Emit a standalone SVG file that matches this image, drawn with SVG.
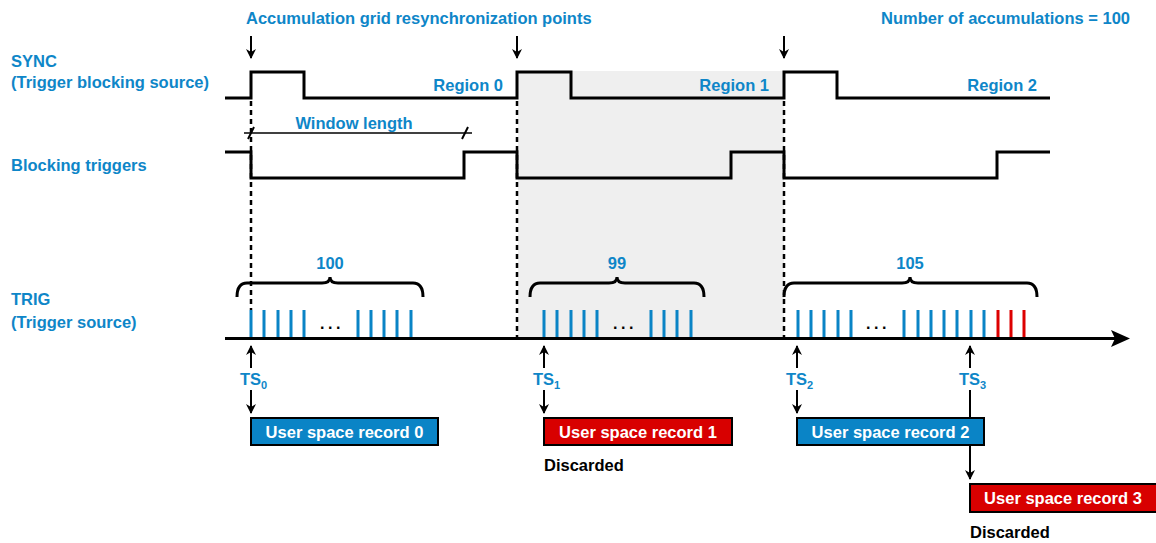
<svg xmlns="http://www.w3.org/2000/svg" width="1156" height="543" viewBox="0 0 1156 543">
  <style>
    .lbl { font-family: "Liberation Sans", Arial, sans-serif; font-weight: bold; font-size: 16.5px; fill: #0e86c8; }
    .blk { font-family: "Liberation Sans", Arial, sans-serif; font-weight: bold; font-size: 16.5px; fill: #000; }
    .rec { font-family: "Liberation Sans", Arial, sans-serif; font-weight: bold; font-size: 16.5px; fill: #fff; }
    .dots { font-family: "Liberation Sans", Arial, sans-serif; font-weight: bold; font-size: 16px; fill: #000; letter-spacing: 3.5px; }
    .sub { font-size: 11px; }
    .wave { fill: none; stroke: #000; stroke-width: 3; stroke-linejoin: miter; }
    .dash { stroke: #000; stroke-width: 2.5; stroke-dasharray: 5 4; }
    .arr { stroke: #000; stroke-width: 2; fill: none; }
    .brace { fill: none; stroke: #000; stroke-width: 3; }
    .pb { stroke: #0a84c6; stroke-width: 3; }
    .pr { stroke: #dd0000; stroke-width: 3; }
    .boxb { fill: #0a84c6; stroke: #000; stroke-width: 2; }
    .boxr { fill: #d80000; stroke: #000; stroke-width: 2; }
  </style>
  <defs>
    <marker id="ah" viewBox="0 0 10 10" refX="9" refY="5" markerWidth="10" markerHeight="10" markerUnits="userSpaceOnUse" orient="auto">
      <path d="M0,0 L10,5 L0,10 L3,5 Z" fill="#000"/>
    </marker>
  </defs>

  <rect width="1156" height="543" fill="#fff"/>

  <!-- shaded region 1 -->
  <rect x="518" y="71" width="266" height="268" fill="#efefef"/>

  <!-- titles -->
  <text class="lbl" x="246" y="24">Accumulation grid resynchronization points</text>
  <text class="lbl" x="1130" y="24" text-anchor="end">Number of accumulations = 100</text>

  <!-- signal names -->
  <text class="lbl" x="11" y="67">SYNC</text>
  <text class="lbl" x="11" y="88">(Trigger blocking source)</text>
  <text class="lbl" x="11" y="171">Blocking triggers</text>
  <text class="lbl" x="11" y="305">TRIG</text>
  <text class="lbl" x="11" y="328">(Trigger source)</text>

  <!-- region labels -->
  <text class="lbl" x="503" y="91" text-anchor="end">Region 0</text>
  <text class="lbl" x="769" y="91" text-anchor="end">Region 1</text>
  <text class="lbl" x="1037" y="91" text-anchor="end">Region 2</text>

  <!-- resync arrows -->
  <g id="resync-arrows">
    <line class="arr" x1="251" y1="36" x2="251" y2="58" marker-end="url(#ah)"/>
    <line class="arr" x1="517" y1="36" x2="517" y2="58" marker-end="url(#ah)"/>
    <line class="arr" x1="784" y1="36" x2="784" y2="58" marker-end="url(#ah)"/>
  </g>

  <!-- waveforms -->
  <g id="sync-wave">
    <path class="wave" d="M225,98 H251 V72 H304 V98 H517 V72 H571 V98 H784 V72 H837 V98 H1050"/>
  </g>
  <g id="blocking-wave">
    <path class="wave" d="M225,152 H251 V178 H464 V152 H517 V178 H731 V152 H784 V178 H997 V152 H1050"/>
  </g>

  <!-- resync dashed markers -->
  <g id="resync-lines">
    <line class="dash" x1="251" y1="101" x2="251" y2="310"/>
    <line class="dash" x1="517" y1="101" x2="517" y2="338"/>
    <line class="dash" x1="784" y1="101" x2="784" y2="338"/>
  </g>

  <!-- window length -->
  <g id="window-length">
    <line x1="244" y1="133" x2="472" y2="133" stroke="#000" stroke-width="1.5"/>
    <line x1="248" y1="139" x2="254" y2="127" stroke="#000" stroke-width="2"/>
    <line x1="462" y1="139" x2="468" y2="127" stroke="#000" stroke-width="2"/>
    <text class="lbl" x="354" y="129" text-anchor="middle">Window length</text>
  </g>

  <!-- trigger pulses -->
  <g id="pulses-0">
    <path class="pb" d="M251,310V338 M264,310V338 M278,310V338 M291,310V338 M304,310V338 M358,310V338 M371,310V338 M384,310V338 M397,310V338 M411,310V338"/>
    <text class="dots" x="320" y="329">...</text>
  </g>
  <g id="pulses-1">
    <path class="pb" d="M544,310V338 M557,310V338 M571,310V338 M584,310V338 M597,310V338 M651,310V338 M664,310V338 M677,310V338 M691,310V338"/>
    <text class="dots" x="613" y="329">...</text>
  </g>
  <g id="pulses-2">
    <path class="pb" d="M798,310V338 M811,310V338 M824,310V338 M838,310V338 M851,310V338 M904,310V338 M918,310V338 M931,310V338 M944,310V338 M957,310V338 M971,310V338 M984,310V338"/>
    <path class="pr" d="M998,310V338 M1011,310V338 M1024,310V338"/>
    <text class="dots" x="866" y="329">...</text>
  </g>

  <!-- braces with counts -->
  <g id="brace-0">
    <path class="brace" d="M237,297 Q237,283 247,283 H322 Q330,283 330,277 Q330,283 338,283 H413 Q423,283 423,297"/>
    <text class="lbl" x="330" y="269" text-anchor="middle">100</text>
  </g>
  <g id="brace-1">
    <path class="brace" d="M530,297 Q530,283 540,283 H609 Q617,283 617,277 Q617,283 625,283 H694 Q704,283 704,297"/>
    <text class="lbl" x="617" y="269" text-anchor="middle">99</text>
  </g>
  <g id="brace-2">
    <path class="brace" d="M784,297 Q784,283 794,283 H902 Q910,283 910,277 Q910,283 918,283 H1027 Q1037,283 1037,297"/>
    <text class="lbl" x="910" y="269" text-anchor="middle">105</text>
  </g>

  <!-- time axis -->
  <g id="time-axis">
    <line x1="225" y1="338.5" x2="1116" y2="338.5" stroke="#000" stroke-width="3"/>
    <path d="M1130,338.5 L1111,330 L1115,338.5 L1111,347 Z" fill="#000"/>
  </g>

  <!-- timestamps and records -->
  <g id="connectors">
    <line class="arr" x1="251" y1="368" x2="251" y2="346" marker-end="url(#ah)"/>
    <line class="arr" x1="544" y1="368" x2="544" y2="346" marker-end="url(#ah)"/>
    <line class="arr" x1="797" y1="368" x2="797" y2="346" marker-end="url(#ah)"/>
    <line class="arr" x1="970" y1="368" x2="970" y2="346" marker-end="url(#ah)"/>
    <line class="arr" x1="251" y1="390" x2="251" y2="413" marker-end="url(#ah)"/>
    <line class="arr" x1="544" y1="390" x2="544" y2="413" marker-end="url(#ah)"/>
    <line class="arr" x1="797" y1="390" x2="797" y2="413" marker-end="url(#ah)"/>
    <line class="arr" x1="970" y1="390" x2="970" y2="479" marker-end="url(#ah)"/>
  </g>

  <g id="ts-labels">
    <text class="lbl" x="240" y="385">TS<tspan class="sub" dy="4">0</tspan></text>
    <text class="lbl" x="533" y="385">TS<tspan class="sub" dy="4">1</tspan></text>
    <text class="lbl" x="786" y="385">TS<tspan class="sub" dy="4">2</tspan></text>
    <text class="lbl" x="959" y="385">TS<tspan class="sub" dy="4">3</tspan></text>
  </g>

  <g id="record-0">
    <rect class="boxb" x="251" y="418" width="187" height="27"/>
    <text class="rec" x="344.5" y="437.5" text-anchor="middle">User space record 0</text>
  </g>
  <g id="record-1">
    <rect class="boxr" x="544" y="418" width="188" height="27"/>
    <text class="rec" x="638" y="437.5" text-anchor="middle">User space record 1</text>
    <text class="blk" x="544" y="471">Discarded</text>
  </g>
  <g id="record-2">
    <rect class="boxb" x="797" y="418" width="187" height="27"/>
    <text class="rec" x="890.5" y="437.5" text-anchor="middle">User space record 2</text>
  </g>
  <g id="record-3">
    <rect class="boxr" x="970" y="484" width="190" height="28"/>
    <text class="rec" x="1063" y="503.5" text-anchor="middle">User space record 3</text>
    <text class="blk" x="970" y="538">Discarded</text>
  </g>
</svg>
